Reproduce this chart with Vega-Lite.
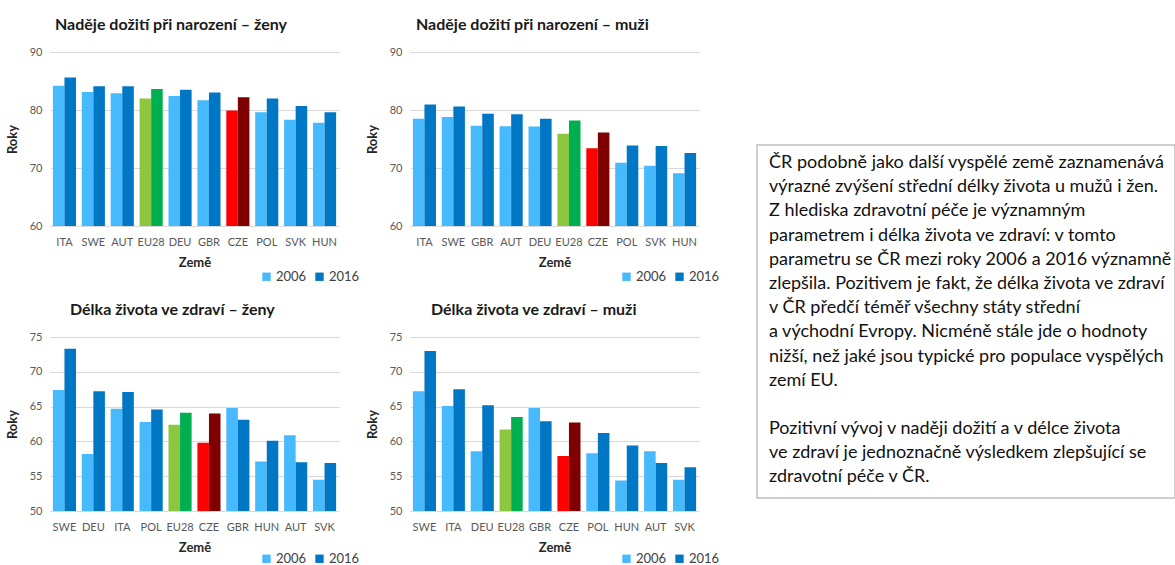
{
  "$schema": "https://vega.github.io/schema/vega-lite/v6.json",
  "padding": {"left": 6, "top": 17, "right": 0, "bottom": 0},
  "background": "white",
  "config": {
    "font": "Lato",
    "view": {"stroke": null},
    "title": {"font": "Lato", "fontSize": 16, "fontWeight": "bold", "color": "#1a1a1a", "anchor": "start", "frame": "group", "offset": 13},
    "axis": {"labelFont": "Lato", "labelFontSize": 11, "labelColor": "#595959", "titleFont": "Lato", "titleFontSize": 13, "titleFontWeight": "bold", "titleColor": "#262626", "ticks": false, "gridColor": "#d9d9d9", "domainColor": "#d9d9d9"},
    "legend": {"labelFont": "Lato", "labelFontSize": 13, "labelColor": "#404040", "symbolType": "square", "symbolSize": 70, "symbolStrokeWidth": 0, "padding": 0, "columnPadding": 6, "labelOffset": 3}
  },
  "datasets": {
    "le_f": [
      {"country": "ITA", "year": "2006", "series": "2006", "value": 84.2},
      {"country": "ITA", "year": "2016", "series": "2016", "value": 85.6},
      {"country": "SWE", "year": "2006", "series": "2006", "value": 83.1},
      {"country": "SWE", "year": "2016", "series": "2016", "value": 84.1},
      {"country": "AUT", "year": "2006", "series": "2006", "value": 82.9},
      {"country": "AUT", "year": "2016", "series": "2016", "value": 84.1},
      {"country": "EU28", "year": "2006", "series": "EU28 2006", "value": 82.0},
      {"country": "EU28", "year": "2016", "series": "EU28 2016", "value": 83.6},
      {"country": "DEU", "year": "2006", "series": "2006", "value": 82.4},
      {"country": "DEU", "year": "2016", "series": "2016", "value": 83.5},
      {"country": "GBR", "year": "2006", "series": "2006", "value": 81.7},
      {"country": "GBR", "year": "2016", "series": "2016", "value": 83.0},
      {"country": "CZE", "year": "2006", "series": "CZE 2006", "value": 79.9},
      {"country": "CZE", "year": "2016", "series": "CZE 2016", "value": 82.2},
      {"country": "POL", "year": "2006", "series": "2006", "value": 79.6},
      {"country": "POL", "year": "2016", "series": "2016", "value": 82.0},
      {"country": "SVK", "year": "2006", "series": "2006", "value": 78.3},
      {"country": "SVK", "year": "2016", "series": "2016", "value": 80.7},
      {"country": "HUN", "year": "2006", "series": "2006", "value": 77.8},
      {"country": "HUN", "year": "2016", "series": "2016", "value": 79.6}
    ],
    "le_m": [
      {"country": "ITA", "year": "2006", "series": "2006", "value": 78.5},
      {"country": "ITA", "year": "2016", "series": "2016", "value": 80.95},
      {"country": "SWE", "year": "2006", "series": "2006", "value": 78.8},
      {"country": "SWE", "year": "2016", "series": "2016", "value": 80.6},
      {"country": "GBR", "year": "2006", "series": "2006", "value": 77.3},
      {"country": "GBR", "year": "2016", "series": "2016", "value": 79.35},
      {"country": "AUT", "year": "2006", "series": "2006", "value": 77.2},
      {"country": "AUT", "year": "2016", "series": "2016", "value": 79.25},
      {"country": "DEU", "year": "2006", "series": "2006", "value": 77.15},
      {"country": "DEU", "year": "2016", "series": "2016", "value": 78.5},
      {"country": "EU28", "year": "2006", "series": "EU28 2006", "value": 75.9},
      {"country": "EU28", "year": "2016", "series": "EU28 2016", "value": 78.2},
      {"country": "CZE", "year": "2006", "series": "CZE 2006", "value": 73.4},
      {"country": "CZE", "year": "2016", "series": "CZE 2016", "value": 76.1},
      {"country": "POL", "year": "2006", "series": "2006", "value": 70.9},
      {"country": "POL", "year": "2016", "series": "2016", "value": 73.9},
      {"country": "SVK", "year": "2006", "series": "2006", "value": 70.4},
      {"country": "SVK", "year": "2016", "series": "2016", "value": 73.8},
      {"country": "HUN", "year": "2006", "series": "2006", "value": 69.1},
      {"country": "HUN", "year": "2016", "series": "2016", "value": 72.6}
    ],
    "hly_f": [
      {"country": "SWE", "year": "2006", "series": "2006", "value": 67.4},
      {"country": "SWE", "year": "2016", "series": "2016", "value": 73.3},
      {"country": "DEU", "year": "2006", "series": "2006", "value": 58.2},
      {"country": "DEU", "year": "2016", "series": "2016", "value": 67.2},
      {"country": "ITA", "year": "2006", "series": "2006", "value": 64.7},
      {"country": "ITA", "year": "2016", "series": "2016", "value": 67.1},
      {"country": "POL", "year": "2006", "series": "2006", "value": 62.8},
      {"country": "POL", "year": "2016", "series": "2016", "value": 64.6},
      {"country": "EU28", "year": "2006", "series": "EU28 2006", "value": 62.4},
      {"country": "EU28", "year": "2016", "series": "EU28 2016", "value": 64.1},
      {"country": "CZE", "year": "2006", "series": "CZE 2006", "value": 59.8},
      {"country": "CZE", "year": "2016", "series": "CZE 2016", "value": 64.0},
      {"country": "GBR", "year": "2006", "series": "2006", "value": 64.8},
      {"country": "GBR", "year": "2016", "series": "2016", "value": 63.1},
      {"country": "HUN", "year": "2006", "series": "2006", "value": 57.1},
      {"country": "HUN", "year": "2016", "series": "2016", "value": 60.1},
      {"country": "AUT", "year": "2006", "series": "2006", "value": 60.9},
      {"country": "AUT", "year": "2016", "series": "2016", "value": 57.0},
      {"country": "SVK", "year": "2006", "series": "2006", "value": 54.5},
      {"country": "SVK", "year": "2016", "series": "2016", "value": 56.9}
    ],
    "hly_m": [
      {"country": "SWE", "year": "2006", "series": "2006", "value": 67.2},
      {"country": "SWE", "year": "2016", "series": "2016", "value": 73.0},
      {"country": "ITA", "year": "2006", "series": "2006", "value": 65.1},
      {"country": "ITA", "year": "2016", "series": "2016", "value": 67.5},
      {"country": "DEU", "year": "2006", "series": "2006", "value": 58.6},
      {"country": "DEU", "year": "2016", "series": "2016", "value": 65.2},
      {"country": "EU28", "year": "2006", "series": "EU28 2006", "value": 61.7},
      {"country": "EU28", "year": "2016", "series": "EU28 2016", "value": 63.5},
      {"country": "GBR", "year": "2006", "series": "2006", "value": 64.8},
      {"country": "GBR", "year": "2016", "series": "2016", "value": 62.9},
      {"country": "CZE", "year": "2006", "series": "CZE 2006", "value": 57.9},
      {"country": "CZE", "year": "2016", "series": "CZE 2016", "value": 62.7},
      {"country": "POL", "year": "2006", "series": "2006", "value": 58.3},
      {"country": "POL", "year": "2016", "series": "2016", "value": 61.2},
      {"country": "HUN", "year": "2006", "series": "2006", "value": 54.4},
      {"country": "HUN", "year": "2016", "series": "2016", "value": 59.4},
      {"country": "AUT", "year": "2006", "series": "2006", "value": 58.6},
      {"country": "AUT", "year": "2016", "series": "2016", "value": 56.9},
      {"country": "SVK", "year": "2006", "series": "2006", "value": 54.5},
      {"country": "SVK", "year": "2016", "series": "2016", "value": 56.3}
    ],
    "txt": [
      {"line": 1, "text": "ČR podobně jako další vyspělé země zaznamenává"},
      {"line": 2, "text": "výrazné zvýšení střední délky života u mužů i žen."},
      {"line": 3, "text": "Z hlediska zdravotní péče je významným"},
      {"line": 4, "text": "parametrem i délka života ve zdraví: v tomto"},
      {"line": 5, "text": "parametru se ČR mezi roky 2006 a 2016 významně"},
      {"line": 6, "text": "zlepšila. Pozitivem je fakt, že délka života ve zdraví"},
      {"line": 7, "text": "v ČR  předčí téměř všechny státy střední"},
      {"line": 8, "text": "a východní Evropy. Nicméně stále jde o hodnoty"},
      {"line": 9, "text": "nižší, než jaké jsou typické pro populace vyspělých"},
      {"line": 10, "text": "zemí EU."},
      {"line": 12, "text": "Pozitivní vývoj v naději dožití a v délce života"},
      {"line": 13, "text": "ve zdraví je jednoznačně výsledkem zlepšující se"},
      {"line": 14, "text": "zdravotní péče v ČR."}
    ]
  },
  "hconcat": [
    {
      "vconcat": [
        {
          "hconcat": [
            {
              "width": 289, "height": 174,
              "title": {"text": "Naděje dožití při narození – ženy", "dx": 5},
              "data": {"name": "le_f"},
              "mark": {"type": "bar", "clip": true},
              "encoding": {
                "x": {"field": "country", "type": "nominal", "sort": null, "scale": {"paddingInner": 0.2, "paddingOuter": 0.1}, "axis": {"title": "Země", "labelAngle": 0, "labelPadding": 10, "titlePadding": 9}},
                "xOffset": {"field": "year", "type": "nominal"},
                "y": {"field": "value", "type": "quantitative", "scale": {"domain": [60, 90], "zero": false, "nice": false}, "axis": {"title": "Roky", "values": [60, 70, 80, 90], "domain": false, "labelPadding": 8, "titlePadding": 10}},
                "color": {"field": "series", "type": "nominal", "scale": {"domain": ["2006", "2016", "EU28 2006", "EU28 2016", "CZE 2006", "CZE 2016"], "range": ["#47b9fd", "#0077c4", "#8dc63f", "#00b050", "#ff0000", "#7f0000"]}, "legend": {"values": ["2006", "2016"], "title": null, "orient": "none", "legendX": 210, "legendY": 218, "direction": "horizontal"}}
              }
            },
            {
              "width": 289, "height": 174,
              "title": {"text": "Naděje dožití při narození – muži", "dx": 6},
              "data": {"name": "le_m"},
              "mark": {"type": "bar", "clip": true},
              "encoding": {
                "x": {"field": "country", "type": "nominal", "sort": null, "scale": {"paddingInner": 0.2, "paddingOuter": 0.1}, "axis": {"title": "Země", "labelAngle": 0, "labelPadding": 10, "titlePadding": 9}},
                "xOffset": {"field": "year", "type": "nominal"},
                "y": {"field": "value", "type": "quantitative", "scale": {"domain": [60, 90], "zero": false, "nice": false}, "axis": {"title": "Roky", "values": [60, 70, 80, 90], "domain": false, "labelPadding": 8, "titlePadding": 10}},
                "color": {"field": "series", "type": "nominal", "scale": {"domain": ["2006", "2016", "EU28 2006", "EU28 2016", "CZE 2006", "CZE 2016"], "range": ["#47b9fd", "#0077c4", "#8dc63f", "#00b050", "#ff0000", "#7f0000"]}, "legend": {"values": ["2006", "2016"], "title": null, "orient": "none", "legendX": 210, "legendY": 218, "direction": "horizontal"}}
              }
            }
          ],
          "spacing": 6,
          "resolve": {"scale": {"color": "independent", "xOffset": "independent"}, "legend": {"color": "independent"}}
        },
        {
          "hconcat": [
            {
              "width": 289, "height": 174,
              "title": {"text": "Délka života ve zdraví – ženy", "dx": 20},
              "data": {"name": "hly_f"},
              "mark": {"type": "bar", "clip": true},
              "encoding": {
                "x": {"field": "country", "type": "nominal", "sort": null, "scale": {"paddingInner": 0.2, "paddingOuter": 0.1}, "axis": {"title": "Země", "labelAngle": 0, "labelPadding": 10, "titlePadding": 9}},
                "xOffset": {"field": "year", "type": "nominal"},
                "y": {"field": "value", "type": "quantitative", "scale": {"domain": [50, 75], "zero": false, "nice": false}, "axis": {"title": "Roky", "values": [50, 55, 60, 65, 70, 75], "domain": false, "labelPadding": 8, "titlePadding": 10}},
                "color": {"field": "series", "type": "nominal", "scale": {"domain": ["2006", "2016", "EU28 2006", "EU28 2016", "CZE 2006", "CZE 2016"], "range": ["#47b9fd", "#0077c4", "#8dc63f", "#00b050", "#ff0000", "#7f0000"]}, "legend": {"values": ["2006", "2016"], "title": null, "orient": "none", "legendX": 210, "legendY": 215, "direction": "horizontal"}}
              }
            },
            {
              "width": 289, "height": 174,
              "title": {"text": "Délka života ve zdraví – muži", "dx": 21},
              "data": {"name": "hly_m"},
              "mark": {"type": "bar", "clip": true},
              "encoding": {
                "x": {"field": "country", "type": "nominal", "sort": null, "scale": {"paddingInner": 0.2, "paddingOuter": 0.1}, "axis": {"title": "Země", "labelAngle": 0, "labelPadding": 10, "titlePadding": 9}},
                "xOffset": {"field": "year", "type": "nominal"},
                "y": {"field": "value", "type": "quantitative", "scale": {"domain": [50, 75], "zero": false, "nice": false}, "axis": {"title": "Roky", "values": [50, 55, 60, 65, 70, 75], "domain": false, "labelPadding": 8, "titlePadding": 10}},
                "color": {"field": "series", "type": "nominal", "scale": {"domain": ["2006", "2016", "EU28 2006", "EU28 2016", "CZE 2006", "CZE 2016"], "range": ["#47b9fd", "#0077c4", "#8dc63f", "#00b050", "#ff0000", "#7f0000"]}, "legend": {"values": ["2006", "2016"], "title": null, "orient": "none", "legendX": 210, "legendY": 215, "direction": "horizontal"}}
              }
            }
          ],
          "spacing": 6,
          "resolve": {"scale": {"color": "independent", "xOffset": "independent"}, "legend": {"color": "independent"}}
        }
      ],
      "spacing": 18,
      "resolve": {"scale": {"color": "independent", "xOffset": "independent"}, "legend": {"color": "independent"}}
    },
    {
      "vconcat": [
        {
          "width": 418, "height": 92,
          "data": {"values": []},
          "mark": {"type": "point", "opacity": 0},
          "encoding": {}
        },
        {
          "width": 418, "height": 353,
          "view": {"stroke": "#c0c0c0", "strokeWidth": 1.5},
          "data": {"name": "txt"},
          "mark": {"type": "text", "align": "left", "baseline": "middle", "fontSize": 18, "font": "Lato", "color": "#111111", "clip": true},
          "encoding": {
            "y": {"field": "line", "type": "quantitative", "scale": {"domain": [0.25, 14.85], "reverse": true}, "axis": null},
            "x": {"value": 12},
            "text": {"field": "text"}
          }
        }
      ],
      "spacing": 0
    }
  ],
  "spacing": 36,
  "resolve": {"scale": {"color": "independent", "xOffset": "independent"}, "legend": {"color": "independent"}}
}
